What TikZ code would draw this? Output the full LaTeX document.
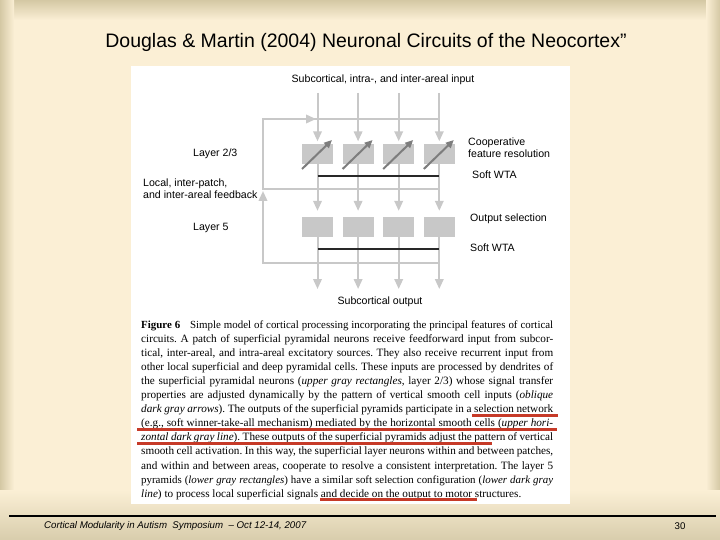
\documentclass[tikz,border=0pt]{standalone}
\usepackage{fontspec}
\setmainfont{Liberation Serif}
\setsansfont{Liberation Sans}
\usetikzlibrary{arrows.meta}
\definecolor{cream}{RGB}{251,239,213}
\definecolor{tanc}{RGB}{212,200,164}
\definecolor{tanb}{RGB}{216,205,172}
\definecolor{lg}{RGB}{200,200,200}
\definecolor{dg}{RGB}{125,125,125}
\definecolor{wtac}{RGB}{40,40,40}
\definecolor{ulc}{RGB}{198,58,40}
\frenchspacing
\begin{document}
\begin{tikzpicture}[x=1pt,y=-1pt,
  box/.style={fill=lg,minimum width=31pt,minimum height=20pt,inner sep=0pt,draw=none},
  gline/.style={draw=lg,line width=2pt},
  garrow/.style={gline,-{Triangle[length=10pt,width=8.5pt]}},
  oarrow/.style={draw=dg,line width=2pt,-{Triangle[length=8pt,width=7pt]}},
  wtaline/.style={draw=wtac,line width=2pt},
  lbl/.style={font=\sffamily\fontsize{10.6}{12}\selectfont,inner sep=0pt,align=left},
  captxt/.style={font=\fontsize{11.2}{14}\selectfont,inner sep=0pt,anchor=base west},
  captxs/.style={font=\fontsize{10.9}{14}\selectfont,inner sep=0pt,anchor=base west},
  redul/.style={draw=ulc,line width=2.5pt}]
\useasboundingbox (0,0) rectangle (720,540);
% background
\fill[cream] (0,0) rectangle (720,540);
\shade[top color=tanc,bottom color=cream] (0,0) rectangle (720,20);
\shade[left color=tanc,right color=cream] (0,0) rectangle (14,500);
\shade[left color=cream,right color=tanc] (706,0) rectangle (720,500);
\shade[top color=cream,bottom color=tanb] (0,490) rectangle (720,540);
% title
\node[font=\sffamily\fontsize{19.5}{22}\selectfont,inner sep=0pt] (title) at (366,42) {Douglas \& Martin (2004) Neuronal Circuits of the Neocortex”};
% panel
\fill[white] (131,66) rectangle (570,504);
% boxes
\foreach \i/\x in {1/317.5,2/358.1,3/398.7,4/439.3} {
  \node[box] (a\i) at (\x,154) {};
  \node[box] (b\i) at (\x,227) {};
  \coordinate (in\i) at (\x,93);
  \coordinate (out\i) at (\x,289);
  \coordinate (wa\i) at (\x,176);
  \coordinate (wb\i) at (\x,249);
}
% feedback loop
\coordinate (fTL) at (263,119); \coordinate (fTR) at (439.3,119); \coordinate (fTA) at (316,119);
\coordinate (fML) at (263,189); \coordinate (fMR) at (439.3,189);
\coordinate (fBL) at (263,263); \coordinate (fBR) at (439.3,263); \coordinate (fUp) at (263,191);
\draw[gline] (fMR) -- (fML) -- (fTL) -- (fTR);
\draw[garrow] (fTL) -- (fTA);
\draw[garrow] (fBR) -- (fBL) -- (fUp);
\foreach \i in {1,...,4} {
  \draw[garrow,shorten >=2.5pt] (in\i) -- (a\i.north);
  \draw[garrow,shorten >=6pt] (a\i.south) -- (b\i.north);
  \draw[garrow] (b\i.south) -- (out\i);
  \draw[oarrow] ([shift={(-15.5,15)}]a\i.center) -- ([shift={(14.5,-14)}]a\i.center);
}
\draw[wtaline] (wa1) -- (wa4);
\draw[wtaline] (wb1) -- (wb4);
% labels
\node[lbl,anchor=center] (tin) at (383,80) {Subcortical, intra-, and inter-areal input};
\node[lbl,anchor=west] (l23) at (193,154) {Layer 2/3};
\node[lbl,anchor=west] (coop) at (468,148) {Cooperative\\feature resolution};
\node[lbl,anchor=west] (wtaA) at (472,175) {Soft WTA};
\node[lbl,anchor=west] (fb) at (143,189) {Local, inter-patch,\\and inter-areal feedback};
\node[lbl,anchor=west] (l5) at (193,228) {Layer 5};
\node[lbl,anchor=west] (osel) at (470,219) {Output selection};
\node[lbl,anchor=west] (wtaB) at (470,248) {Soft WTA};
\node[lbl,anchor=center] (sout) at (380,302) {Subcortical output};
% caption
\node[captxs] (c1) at (141,328.0) {\makebox[412pt][s]{\textbf{Figure 6}\hspace{0.9em}Simple model of cortical processing incorporating the principal features of cortical}};
\node[captxt] (c2) at (141,342.1) {\makebox[412pt][s]{circuits. A patch of superficial pyramidal neurons receive feedforward input from subcor-}};
\node[captxt] (c3) at (141,356.2) {\makebox[412pt][s]{tical, inter-areal, and intra-areal excitatory sources. They also receive recurrent input from}};
\node[captxt] (c4) at (141,370.3) {\makebox[412pt][s]{other local superficial and deep pyramidal cells. These inputs are processed by dendrites of}};
\node[captxt] (c5) at (141,384.4) {\makebox[412pt][s]{the superficial pyramidal neurons (\textit{upper gray rectangles}, layer 2/3) whose signal transfer}};
\node[captxt] (c6) at (141,398.5) {\makebox[412pt][s]{properties are adjusted dynamically by the pattern of vertical smooth cell inputs (\textit{oblique}}};
\node[captxt] (c7) at (141,412.6) {\makebox[412pt][s]{\textit{dark gray arrows}). The outputs of the superficial pyramids participate in a selection network}};
\node[captxt] (c8) at (141,426.7) {\makebox[412pt][s]{(e.g., soft winner-take-all mechanism) mediated by the horizontal smooth cells (\textit{upper hori-}}};
\node[captxt] (c9) at (141,440.8) {\makebox[412pt][s]{\textit{zontal dark gray line}). These outputs of the superficial pyramids adjust the pattern of vertical}};
\node[captxt] (c10) at (141,454.9) {\makebox[412pt][s]{smooth cell activation. In this way, the superficial layer neurons within and between patches,}};
\node[captxt] (c11) at (141,469.0) {\makebox[412pt][s]{and within and between areas, cooperate to resolve a consistent interpretation. The layer 5}};
\node[captxs] (c12) at (141,483.1) {\makebox[412pt][s]{pyramids (\textit{lower gray rectangles}) have a similar soft selection configuration (\textit{lower dark gray}}};
\node[captxt] (c13) at (141,497.2) {\textit{line}) to process local superficial signals and decide on the output to motor structures.};
% red underlines
\draw[redul] (472,415.5) -- (558,415.5);
\draw[redul] (137,429.5) -- (557,429.5);
\draw[redul] (137,443.5) -- (492,443.5);
\draw[redul] (320,499.5) -- (477,499.5);
% footer
\coordinate (flL) at (9,516); \coordinate (flR) at (716,516);
\draw[line width=2.2pt,black] (flL) -- (flR);
\node[anchor=west,inner sep=0pt,font=\sffamily\itshape\fontsize{9.7}{11}\selectfont] (foot) at (44,526) {Cortical Modularity in Autism\ \ Symposium\ \ – Oct 12-14, 2007};
\node[inner sep=0pt,font=\sffamily\fontsize{9.7}{11}\selectfont] (pg) at (680,526) {30};
\end{tikzpicture}
\end{document}
